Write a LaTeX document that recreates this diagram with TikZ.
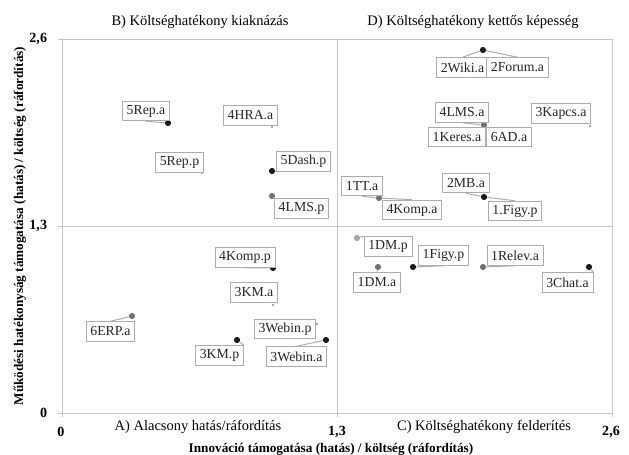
\documentclass[tikz,border=0pt]{standalone}
\usepackage{fontspec}
\setmainfont{Liberation Serif}

\tikzset{
  frame/.style={draw=gray!45, line width=0.6pt},
  lbl/.style={draw=gray!65, fill=white, line width=0.6pt, inner xsep=3pt, inner ysep=0pt,
              minimum height=14pt, font=\fontsize{9.8}{11}\selectfont, text=black!85},
  ptblack/.style={circle, fill=black!90, inner sep=0pt, minimum size=4.4pt},
  ptgray/.style={circle, fill=black!55, inner sep=0pt, minimum size=4.4pt},
  ptlight/.style={circle, fill=black!35, inner sep=0pt, minimum size=4.4pt},
  ptfaint/.style={circle, fill=black!45, inner sep=0pt, minimum size=1.6pt},
  lead/.style={draw=gray!65, line width=0.7pt},
  quad/.style={font=\fontsize{10.3}{12}\selectfont},
  ticklbl/.style={font=\bfseries\fontsize{10}{12}\selectfont},
  axtitle/.style={font=\bfseries\fontsize{9.4}{11}\selectfont},
}

\begin{document}
\begin{tikzpicture}[x=0.025cm, y=-0.025cm]
\useasboundingbox (0,0) rectangle (629,454);

% frame and quadrant lines
\draw[frame] (62,39) rectangle (612,413);
\draw[frame] (337,39) -- (337,413);
\draw[frame] (62,226) -- (612,226);
\foreach \y in {39,226,413} \draw[frame] (58,\y) -- (62,\y);
\foreach \x in {62,337,612} \draw[frame] (\x,413) -- (\x,417);

% tick labels
\node[ticklbl, anchor=east] (ty26) at (52,39) {2,6};
\node[ticklbl, anchor=east] (ty13) at (52,226) {1,3};
\node[ticklbl, anchor=east] (ty0) at (52,413) {0};
\node[ticklbl] (tx0) at (61,432) {0};
\node[ticklbl] (tx13) at (337,432) {1,3};
\node[ticklbl] (tx26) at (611,432) {2,6};

% quadrant titles
\node[quad] (qB) at (200,22) {B) Költséghatékony kiaknázás};
\node[quad] (qD) at (473,22) {D) Költséghatékony kettős képesség};
\node[quad] (qA) at (198,427) {A) Alacsony hatás/ráfordítás};
\node[quad] (qC) at (484,427) {C) Költséghatékony felderítés};

% axis titles
\node[axtitle] (xtitle) at (331,449) {Innováció támogatása (hatás) / költség (ráfordítás)};
\node[axtitle, rotate=90] (ytitle) at (20,226) {Működési hatékonyság támogatása (hatás) / költség (ráfordítás)};

% points
\node[ptblack] (pRepA) at (168,123) {};
\node[ptfaint] (pHRA) at (272,127) {};
\node[ptfaint] (pRepP) at (202,173) {};
\node[ptblack] (pDash) at (272,171) {};
\node[ptgray] (pLMSp) at (272,196) {};
\node[ptblack] (pWiki) at (483,50) {};
\node[ptgray] (pLMSa) at (484,125) {};
\node[ptfaint] (pKapcs) at (590,126) {};
\node[ptgray] (pTT) at (379,198) {};
\node[ptblack] (pMB) at (484,197) {};
\node[ptblack] (pKompP) at (273,268) {};
\node[ptfaint] (pKMa) at (273,305) {};
\node[ptgray] (pERP) at (132,316) {};
\node[ptfaint] (pWebP) at (317,324) {};
\node[ptblack] (pKMp) at (237,340) {};
\node[ptblack] (pWebA) at (326,340) {};
\node[ptlight] (pDMp) at (357,238) {};
\node[ptgray] (pDMa) at (378,267) {};
\node[ptblack] (pFigy) at (413,267) {};
\node[ptgray] (pRelev) at (483,267) {};
\node[ptblack] (pChat) at (589,267) {};

% labels
\node[lbl] (repA) at (146,111) {5Rep.a};
\node[lbl] (hraA) at (250.5,115.5) {4HRA.a};
\node[lbl] (repP) at (179.5,162.5) {5Rep.p};
\node[lbl] (dashP) at (303.5,161.5) {5Dash.p};
\node[lbl] (lmsP) at (301.5,208.5) {4LMS.p};
\node[lbl] (wikiA) at (462.5,67.5) {2Wiki.a};
\node[lbl] (forumA) at (517.5,67.5) {2Forum.a};
\node[lbl] (lmsA) at (462,112.5) {4LMS.a};
\node[lbl] (keresA) at (457,137) {1Keres.a};
\node[lbl] (adA) at (509,137) {6AD.a};
\node[lbl] (kapcsA) at (561,113.5) {3Kapcs.a};
\node[lbl] (ttA) at (362,186) {1TT.a};
\node[lbl] (kompA) at (412,210) {4Komp.a};
\node[lbl] (mbA) at (466,183) {2MB.a};
\node[lbl] (figyPt) at (515,211) {1.Figy.p};
\node[lbl] (kompP) at (245,257.5) {4Komp.p};
\node[lbl] (kmA) at (254,292.5) {3KM.a};
\node[lbl] (erpA) at (110.5,331.5) {6ERP.a};
\node[lbl] (webP) at (285,329) {3Webin.p};
\node[lbl] (kmP) at (219.5,355.5) {3KM.p};
\node[lbl] (webA) at (296.5,356.5) {3Webin.a};
\node[lbl] (dmP) at (388,246.5) {1DM.p};
\node[lbl] (dmA) at (377,282.5) {1DM.a};
\node[lbl] (figyP) at (443.5,255.5) {1Figy.p};
\node[lbl] (relevA) at (515,255.5) {1Relev.a};
\node[lbl] (chatA) at (567.5,282.5) {3Chat.a};

% leader lines
\draw[lead] (repA.south) -- (pRepA);
\draw[lead] (dashP.south west) -- (pDash);
\draw[lead] (lmsP.north west) -- (pLMSp);
\draw[lead] (wikiA.north) -- (pWiki);
\draw[lead] (forumA.north) -- (pWiki);
\draw[lead] (lmsA.south) -- (pLMSa);
\draw[lead] (ttA.south) -- (pTT);
\draw[lead] (kompA.north) -- (pTT);
\draw[lead] (mbA.south) -- (pMB);
\draw[lead] (figyPt.north) -- (pMB);
\draw[lead] (kompP.south) -- (pKompP);
\draw[lead] (erpA.north) -- (pERP);
\draw[lead] (kmP.north east) -- (pKMp);
\draw[lead] (webA.north) -- (pWebA);
\draw[lead] (dmP.north west) -- (pDMp);
\draw[lead] (dmA.north) -- (pDMa);
\draw[lead] (figyP.south) -- (pFigy);
\draw[lead] (relevA.south) -- (pRelev);
\draw[lead] (chatA.north east) -- (pChat);
\end{tikzpicture}
\end{document}
